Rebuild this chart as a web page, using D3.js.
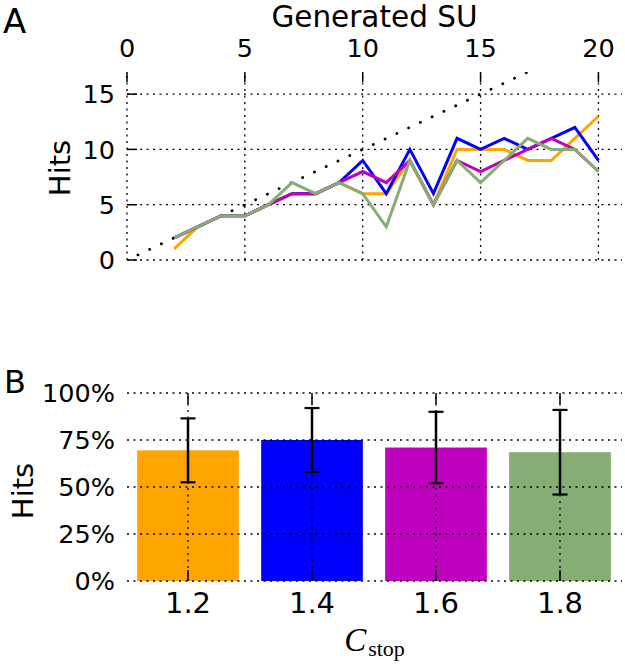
<!DOCTYPE html>
<html><head><meta charset="utf-8">
<script src="https://cdn.jsdelivr.net/npm/d3@7"></script>
<style>body{margin:0;background:#fff}svg{display:block}text{font-family:"DejaVu Sans",sans-serif;fill:#000}</style>
</head><body>
<script>
// Panel A data
const generatedSU = [2,3,4,5,6,7,8,9,10,11,12,13,14,15,16,17,18,19,20];
const hitsOrange  = [1,3,4,4,5,6,6,7,6,6,9,5,10,10,10,9,9,11,13];
const hitsBlue    = [2,3,4,4,5,6,6,7,9,6,10,6,11,10,11,10,11,12,9];
const hitsPurple  = [2,3,4,4,5,6,6,7,8,7,9,5,9,8,9,10,11,10,8];
const hitsGreen   = [2,3,4,4,5,7,6,7,6,3,9,5,9,7,9,11,10,10,8];
const xTicksA = [0,5,10,15,20];
const yTicksA = [0,5,10,15];
const diagonal = [0,17];
// Panel B data
const cStop = ["1.2","1.4","1.6","1.8"];
const hitRate = [0.695,0.75,0.71,0.685];
const hitErr = [0.17,0.17,0.19,0.225];
const yTicksB = [0,0.25,0.5,0.75,1];

const colors = ["#ffa500","#0000ff","#bf00bf","#86ad73"];

const W=625,H=664;
const svg=d3.select("body").append("svg").attr("width",W).attr("height",H);
const gridDash="2,4.5";
const gridW=1.3;

// ---------- Panel A ----------
const xA=d3.scaleLinear().domain([0,21]).range([127,622]);
const yA=d3.scaleLinear().domain([0,17]).range([260,72]);
const gA=svg.append("g");
gA.selectAll(".vg").data(xTicksA).join("line")
  .attr("x1",d=>xA(d)).attr("x2",d=>xA(d)).attr("y1",yA(0)).attr("y2",yA(17))
  .attr("stroke","#000").attr("stroke-width",gridW).attr("stroke-dasharray",gridDash);
gA.selectAll(".hg").data(yTicksA).join("line")
  .attr("x1",xA(0)).attr("x2",xA(21)).attr("y1",d=>yA(d)).attr("y2",d=>yA(d))
  .attr("stroke","#000").attr("stroke-width",gridW).attr("stroke-dasharray",gridDash);
gA.selectAll(".tt").data(xTicksA).join("line")
  .attr("x1",d=>xA(d)).attr("x2",d=>xA(d)).attr("y1",yA(17)).attr("y2",yA(17)+10)
  .attr("stroke","#000").attr("stroke-width",1.5);
gA.selectAll(".lt").data(yTicksA).join("line")
  .attr("x1",xA(0)).attr("x2",xA(0)+10).attr("y1",d=>yA(d)).attr("y2",d=>yA(d))
  .attr("stroke","#000").attr("stroke-width",1.5);
gA.selectAll(".xl").data(xTicksA).join("text")
  .attr("x",d=>xA(d)).attr("y",57).attr("text-anchor","middle").attr("font-size",25.5).text(d=>d);
gA.selectAll(".yl").data(yTicksA).join("text")
  .attr("x",115).attr("y",d=>yA(d)).attr("dy","0.36em").attr("text-anchor","end").attr("font-size",25.5).text(d=>d);
gA.append("text").attr("x",374.5).attr("y",27).attr("text-anchor","middle").attr("font-size",29.5).text("Generated SU");
gA.append("text").attr("transform","translate(70,168) rotate(-90)").attr("text-anchor","middle").attr("font-size",29).text("Hits");
svg.append("text").attr("x",3).attr("y",33).attr("font-size",34).text("A");
svg.append("clipPath").attr("id","clipA").append("rect").attr("x",xA(0)).attr("y",yA(17)).attr("width",xA(21)-xA(0)).attr("height",yA(0)-yA(17));
gA.append("line").attr("clip-path","url(#clipA)")
  .attr("x1",xA(diagonal[0])).attr("y1",yA(diagonal[0])).attr("x2",xA(diagonal[1])).attr("y2",yA(diagonal[1]))
  .attr("stroke","#000").attr("stroke-width",2.8).attr("stroke-linecap","round").attr("stroke-dasharray","0.1,12.9").attr("stroke-dashoffset",-12);
const line=d3.line().x((d,i)=>xA(generatedSU[i])).y(d=>yA(d));
[hitsOrange,hitsBlue,hitsPurple,hitsGreen].forEach((s,k)=>{
  gA.append("path").datum(s).attr("d",line).attr("fill","none").attr("stroke",colors[k]).attr("stroke-width",3);
});

// ---------- Panel B ----------
const xB=d3.scaleBand().domain(cStop).range([126,622]).paddingInner(0.18).paddingOuter(0.09);
const yB=d3.scaleLinear().domain([0,1]).range([581,393]);
const gB=svg.append("g");
gB.selectAll(".bar").data(cStop).join("rect")
  .attr("x",d=>xB(d)).attr("width",xB.bandwidth()).attr("y",(d,i)=>yB(hitRate[i])).attr("height",(d,i)=>yB(0)-yB(hitRate[i]))
  .attr("fill",(d,i)=>colors[i]);
const cx=d=>xB(d)+xB.bandwidth()/2;
gB.selectAll(".vg").data(cStop).join("line")
  .attr("x1",cx).attr("x2",cx).attr("y1",yB(0)).attr("y2",yB(1))
  .attr("stroke","#000").attr("stroke-width",gridW).attr("stroke-dasharray",gridDash);
gB.selectAll(".hg").data(yTicksB).join("line")
  .attr("x1",127).attr("x2",622).attr("y1",d=>yB(d)).attr("y2",d=>yB(d))
  .attr("stroke","#000").attr("stroke-width",gridW).attr("stroke-dasharray",gridDash);
gB.selectAll(".tt").data(cStop).join("line")
  .attr("x1",cx).attr("x2",cx).attr("y1",yB(1)).attr("y2",yB(1)+11).attr("stroke","#000").attr("stroke-width",1.5);
gB.selectAll(".bt").data(cStop).join("line")
  .attr("x1",cx).attr("x2",cx).attr("y1",yB(0)).attr("y2",yB(0)-11).attr("stroke","#000").attr("stroke-width",1.5);
cStop.forEach((c,i)=>{
  const x=cx(c), lo=yB(hitRate[i]-hitErr[i]), hi=yB(hitRate[i]+hitErr[i]);
  gB.append("line").attr("x1",x).attr("x2",x).attr("y1",lo).attr("y2",hi).attr("stroke","#000").attr("stroke-width",2.5);
  [lo,hi].forEach(y=>gB.append("line").attr("x1",x-7.5).attr("x2",x+7.5).attr("y1",y).attr("y2",y).attr("stroke","#000").attr("stroke-width",2.2));
});
gB.selectAll(".yl").data(yTicksB).join("text")
  .attr("x",115).attr("y",d=>yB(d)).attr("dy","0.36em").attr("text-anchor","end").attr("font-size",25.5).text(d=>Math.round(d*100)+"%");
gB.selectAll(".xl").data(cStop).join("text")
  .attr("x",cx).attr("y",613).attr("text-anchor","middle").attr("font-size",29).text(d=>d);
gB.append("text").attr("transform","translate(33,491) rotate(-90)").attr("text-anchor","middle").attr("font-size",29).text("Hits");
svg.append("text").attr("x",4).attr("y",393).attr("font-size",32).text("B");
const cl=gB.append("text").attr("x",374.5).attr("y",651).attr("text-anchor","middle").style("font-family","'Liberation Serif',serif");
cl.append("tspan").attr("font-size",33).attr("font-style","italic").text("C");
cl.append("tspan").attr("font-size",22).attr("dy",5).attr("dx",2).text("stop");
</script>
</body></html>
